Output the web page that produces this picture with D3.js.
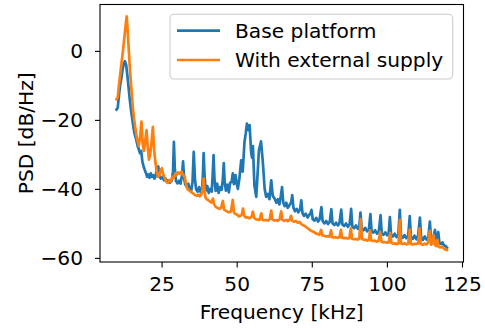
<!DOCTYPE html>
<html>
<head>
<meta charset="utf-8">
<script src="https://cdn.jsdelivr.net/npm/d3@7"></script>
<style>
  html, body { margin: 0; padding: 0; background: #fff; }
  svg { display: block; font-family: "DejaVu Sans", sans-serif; }
</style>
</head>
<body>
<svg id="chart" width="485" height="328"></svg>
<script>
// ---- Data ----
const seriesNames = ["Base platform", "With external supply"];
const seriesColors = ["#1f77b4", "#ff7f0e"];

const freqBase = [10.0,10.4,10.8,11.2,11.6,12.0,12.4,12.8,13.2,13.6,14.0,14.4,14.8,15.2,15.6,16.0,16.5,17.0,17.4,17.8,18.2,18.6,19.0,19.4,19.8,20.2,20.6,21.0,21.4,21.8,22.2,22.6,23.0,23.5,23.9,24.3,24.8,25.3,25.8,26.3,26.8,27.3,27.8,28.4,28.8,29.1,29.4,29.8,30.3,30.8,31.3,31.8,32.15,32.5,32.9,33.4,33.9,34.4,34.9,35.3,35.7,36.1,36.5,37.0,37.5,38.0,38.5,38.8,39.0,39.3,39.7,40.2,40.7,41.2,41.7,42.0,42.3,42.6,43.0,43.5,44.0,44.5,45.0,45.4,45.7,46.0,46.4,46.9,47.4,47.8,48.3,48.7,49.1,49.6,50.0,50.4,50.9,51.5,52.0,52.6,53.0,53.4,53.9,54.3,54.8,55.1,55.4,55.9,56.5,57.0,57.4,58.1,58.7,59.3,59.8,60.4,60.9,61.5,62.0,62.6,63.2,63.7,64.2,64.7,65.1,65.5,66.0,66.5,67.0,67.5,68.1,68.5,68.9,69.4,70.0,70.5,71.1,71.5,71.9,72.4,73.0,73.6,74.2,74.6,74.9,75.3,75.9,76.5,77.1,77.6,78.2,78.6,79.2,79.8,80.4,81.0,81.5,81.9,82.5,83.1,83.7,84.2,84.8,85.2,85.8,86.4,87.0,87.6,88.1,88.5,89.1,89.7,90.3,90.8,91.2,91.6,92.2,92.8,93.4,94.0,94.5,94.9,95.5,96.1,96.7,97.3,97.9,98.3,98.9,99.5,100.1,100.6,101.0,101.4,102.0,102.6,103.2,103.8,104.3,104.7,105.3,105.9,106.5,107.1,107.6,108.0,108.6,109.2,109.8,110.4,111.0,111.4,112.0,112.6,113.2,113.8,114.3,114.7,115.2,115.6,116.0,116.4,116.8,117.1,117.5,118.0,118.5,119.0,119.5,120.0];
const psdBase = [-17.0,-16.5,-13,-10,-8,-5.5,-3.8,-3.0,-4,-7,-10.5,-14,-17,-19.5,-22,-24,-25.5,-27.5,-28.5,-29.6,-29,-32,-33.5,-34.5,-35.4,-36.5,-35.8,-36.8,-35.5,-36.5,-36,-37,-36.3,-34,-33.5,-36.5,-37,-36.5,-37.5,-37,-38,-37.5,-38.2,-37.6,-35,-26.4,-34,-37.8,-38.4,-37.6,-38.5,-36,-32,-37,-38.8,-39.2,-38.5,-40,-40.4,-38,-29.3,-37,-40.2,-40.8,-39.5,-41,-40,-35,-29.6,-36,-40.5,-39.2,-41.2,-40,-40.8,-36,-30.2,-37,-40.6,-38.5,-41.2,-39.5,-40.3,-37,-32.5,-38,-40.5,-38.8,-41,-38.2,-38,-35.5,-38.6,-36,-38.5,-40,-37,-31.7,-35,-26.4,-24,-21.1,-23,-21.5,-29.3,-31,-27.6,-39,-42.3,-35,-28.8,-26.2,-32.2,-39.9,-42.3,-41.5,-43,-37.5,-42,-42.8,-44,-43,-44.5,-42,-39.5,-44,-45,-44,-45.5,-44.8,-44,-41.8,-45.5,-46.5,-45.8,-46.8,-46,-43.3,-47,-47.8,-47.2,-48.3,-47.5,-47,-46.1,-48.8,-49.2,-48.4,-49.5,-48.8,-45.3,-49.3,-50,-49.3,-50.2,-49.5,-45.9,-50,-50.5,-49.8,-50.6,-50,-46,-50.3,-50.8,-50,-51,-50.3,-45.8,-51,-51.4,-50.6,-51.6,-51,-46.9,-51.5,-52,-51.3,-52.3,-51.8,-47.3,-52.2,-52.7,-52,-53,-52.4,-47.6,-53,-53.3,-52.6,-53.5,-52.8,-48.2,-53.4,-53.8,-53,-54,-53.3,-46.1,-53.6,-54.2,-53.4,-54.3,-53.7,-47.9,-54,-54.5,-53.6,-54.6,-53.5,-48.3,-54.2,-54.8,-53.8,-54.7,-54,-49.5,-54.5,-55,-53.5,-51.9,-55.2,-53.8,-52.5,-55.8,-56,-55.5,-56.4,-56.5,-57];

const freqExt = [10.0,10.4,10.8,11.2,11.6,12.0,12.4,12.8,13.1,13.4,13.7,14.0,14.3,14.6,15.0,15.4,15.8,16.2,16.6,17.0,17.4,17.8,18.3,18.7,19.1,19.5,20.0,20.4,20.8,21.2,21.7,22.1,22.5,22.9,23.3,23.8,24.3,24.7,25.1,25.6,26.1,26.6,27.1,27.6,28.1,28.6,29.1,29.6,30.0,30.5,31.0,31.6,32.1,32.7,33.3,33.8,34.4,35.0,35.5,36.1,36.7,37.2,37.7,38.3,38.7,39.0,39.3,39.6,40.0,40.5,41.0,41.6,42.1,42.5,43.0,43.6,44.2,44.8,45.4,45.8,46.3,46.9,47.5,48.1,48.7,49.1,49.6,50.2,50.7,51.2,51.7,52.1,52.5,53.0,53.5,54.0,54.5,55.0,55.4,55.8,56.4,57.0,57.6,58.2,58.6,59.2,59.8,60.4,61.0,61.5,61.9,62.5,63.1,63.7,64.3,64.8,65.2,65.8,66.4,67.0,67.6,68.1,68.5,69.1,69.7,70.3,70.9,71.5,72.1,72.7,73.3,73.9,74.5,75.1,75.7,76.3,76.9,77.5,78.1,78.5,79.1,79.7,80.3,80.9,81.4,81.8,82.4,83.0,83.6,84.2,84.7,85.1,85.7,86.3,86.9,87.5,88.0,88.4,89.0,89.6,90.2,90.8,91.3,91.7,92.3,92.9,93.5,94.0,94.4,94.8,95.4,96.0,96.6,97.2,97.8,98.2,98.8,99.4,100.0,100.6,101.1,101.5,102.1,102.7,103.3,103.9,104.3,104.7,105.3,105.9,106.5,107.1,107.6,108.0,108.6,109.2,109.8,110.4,110.9,111.3,111.9,112.5,113.1,113.7,114.3,114.7,115.1,115.6,116.0,116.4,116.8,117.2,117.8,118.4,119.0,119.5,120.0];
const psdExt = [-14,-13.5,-10,-7,-4,-1,2,5.5,8,10,6,1.5,-3,-7,-11.5,-16,-19.5,-22,-24.5,-26,-27.5,-25.5,-20.5,-27,-29,-26.5,-23,-28,-31.5,-30,-26,-22,-28.5,-32,-34.5,-36.5,-36,-34.5,-34,-36,-37,-38,-38.3,-37.5,-37.8,-36.5,-36.8,-35.5,-36,-35.2,-35.6,-35,-36,-36.5,-39.4,-40.3,-40.6,-41,-41.3,-41.8,-42,-41.7,-42.2,-41.5,-40,-37,-40.5,-42.5,-43,-43.2,-43.6,-44,-42.8,-44.5,-45.2,-45.5,-45.8,-45.5,-43.5,-46,-46.3,-46.6,-46.8,-46.5,-43.2,-46.8,-47.3,-47.5,-48,-47.8,-47.5,-45.7,-47.8,-48.3,-48.2,-48.5,-48.4,-48,-46.6,-48.4,-48.8,-48.9,-49,-47.1,-49,-49.1,-49,-49.2,-48.8,-46.3,-48.9,-49.2,-49,-49.3,-48.8,-46.5,-49,-49.3,-49,-49.4,-49,-47.8,-49.3,-49.5,-49.3,-49.8,-49.6,-50.2,-50.5,-50.8,-51.2,-51.6,-52,-52.3,-52.5,-52.9,-53.1,-53.3,-51.9,-53.5,-53.6,-53.8,-53.7,-53.9,-52,-54,-54.1,-54,-54.2,-54.1,-51.9,-54.2,-54.3,-54.2,-54.4,-54.3,-51.4,-54.5,-54.6,-54.5,-54.7,-54.5,-48.8,-54.5,-54.8,-54.7,-55,-54.8,-52,-55,-55.1,-55,-55.3,-55.1,-52.5,-55.3,-55.5,-55.4,-55.6,-55.5,-52.8,-55.7,-55.9,-55.8,-56,-55.8,-49,-55.8,-56,-55.8,-56.1,-55.9,-51.8,-56,-56.1,-55.9,-56,-55.8,-51.5,-56,-56.2,-55.9,-56.1,-55.6,-52.2,-56.2,-55.8,-53.5,-56.3,-56.6,-54.8,-56.8,-57,-56.8,-57.3,-57.6,-57.7];

const xTicks = [25, 50, 75, 100, 125];
const yTicks = [0, -20, -40, -60];
const xLabel = "Frequency [kHz]";
const yLabel = "PSD [dB/Hz]";

// ---- Layout ----
const svg = d3.select("#chart");
const L = 100, R = 463.5, T = 4.5, B = 262;
const FS = 20.2;

const x = d3.scaleLinear().domain([4.5, 125.5]).range([L, R]);
const y = d3.scaleLinear().domain([-61.2, 13.45]).range([B, T]);

// Lines
const line = d3.line().x(d => x(d[0])).y(d => y(d[1]));
const series = [
  freqBase.map((f, i) => [f, psdBase[i]]),
  freqExt.map((f, i) => [f, psdExt[i]])
];
const g = svg.append("g");
series.forEach((s, i) => {
  g.append("path")
    .datum(s)
    .attr("fill", "none")
    .attr("stroke", seriesColors[i])
    .attr("stroke-width", 2.7)
    .attr("stroke-linejoin", "round")
    .attr("stroke-linecap", "square")
    .attr("d", line);
});

// Axes
const fmt = d3.format("d");
const xAxis = svg.append("g")
  .attr("transform", `translate(0,${B})`)
  .call(d3.axisBottom(x).tickValues(xTicks).tickFormat(fmt).tickSize(5.5).tickPadding(9).tickSizeOuter(0));
const yAxis = svg.append("g")
  .attr("transform", `translate(${L},0)`)
  .call(d3.axisLeft(y).tickValues(yTicks).tickFormat(fmt).tickSize(5).tickPadding(12).tickSizeOuter(0));
[xAxis, yAxis].forEach(a => {
  a.select(".domain").remove();
  a.selectAll(".tick line").attr("stroke", "#000").attr("stroke-width", 1.1);
  a.selectAll(".tick text").attr("fill", "#000").style("font-size", FS + "px").style("font-family", "DejaVu Sans");
});

// Frame
svg.append("rect")
  .attr("x", L).attr("y", T)
  .attr("width", R - L).attr("height", B - T)
  .attr("fill", "none").attr("stroke", "#000").attr("stroke-width", 1.1);

// Axis labels
svg.append("text")
  .attr("x", (L + R) / 2).attr("y", 318.5)
  .attr("text-anchor", "middle")
  .style("font-size", FS + "px")
  .text(xLabel);
svg.append("text")
  .attr("transform", `translate(32.5,${(T + B) / 2}) rotate(-90)`)
  .attr("text-anchor", "middle")
  .style("font-size", FS + "px")
  .text(yLabel);

// Legend
const lg = svg.append("g");
lg.append("rect")
  .attr("x", 170).attr("y", 14.3).attr("width", 282.7).attr("height", 64.7)
  .attr("rx", 4).attr("ry", 4)
  .attr("fill", "#fff").attr("fill-opacity", 0.8)
  .attr("stroke", "#cccccc").attr("stroke-width", 1.1);
const rows = [30.7, 60];
seriesNames.forEach((n, i) => {
  lg.append("line")
    .attr("x1", 177).attr("x2", 220)
    .attr("y1", rows[i]).attr("y2", rows[i])
    .attr("stroke", seriesColors[i]).attr("stroke-width", 2.7);
  lg.append("text")
    .attr("x", 235).attr("y", rows[i]).attr("dy", "0.36em")
    .style("font-size", FS + "px")
    .text(n);
});
</script>
</body>
</html>
